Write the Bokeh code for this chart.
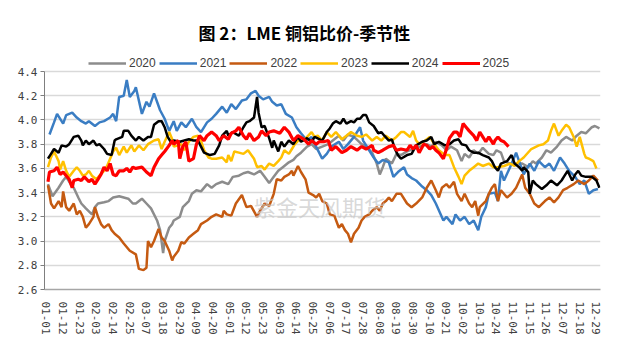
from bokeh.plotting import figure
from bokeh.models import FixedTicker, Legend, LegendItem, Label, PrintfTickFormatter, Range1d
from bokeh.embed import file_html
from bokeh.resources import INLINE

tick_days = list(range(0, 364, 11))
tick_labels = ["01-01", "01-12", "01-23", "02-03", "02-14", "02-25", "03-07", "03-18",
               "03-29", "04-09", "04-20", "05-01", "05-12", "05-23", "06-03", "06-14",
               "06-25", "07-06", "07-17", "07-28", "08-08", "08-19", "08-30", "09-10",
               "09-21", "10-02", "10-13", "10-24", "11-04", "11-15", "11-26", "12-07",
               "12-18", "12-29"]
y_ticks = [2.6, 2.8, 3.0, 3.2, 3.4, 3.6, 3.8, 4.0, 4.2, 4.4]

years = ["2020", "2021", "2022", "2023", "2024", "2025"]

s2020 = [(1,3.47),(4,3.37),(8,3.44),(11,3.50),(13,3.53),(16,3.47),(18,3.44),(21,3.36),(23,3.31),(26,3.27),
         (30,3.22),(32,3.28),(34,3.31),(38,3.32),(41,3.33),(44,3.36),(48,3.37),(51,3.36),(54,3.35),(57,3.31),
         (59,3.31),(63,3.35),(66,3.31),(69,3.27),(73,3.17),(75,3.09),(77,2.90),(78,3.00),(81,3.11),(83,3.14),
         (84,3.17),(88,3.20),(90,3.28),(94,3.33),(96,3.39),(99,3.42),(102,3.41),(106,3.47),(109,3.44),(112,3.47),
         (116,3.49),(120,3.47),(123,3.53),(127,3.54),(130,3.56),(133,3.57),(137,3.55),(141,3.58),(144,3.53),(147,3.48),
         (150,3.53),(153,3.58),(156,3.61),(160,3.65),(163,3.67),(165,3.70),(168,3.73),(172,3.78),(175,3.80),(178,3.76),
         (182,3.78),(186,3.80),(189,3.83),(193,3.87),(196,3.83),(199,3.88),(203,3.86),(208,3.80),(211,3.78),(215,3.73),
         (218,3.64),(220,3.55),(222,3.61),(224,3.68),(228,3.64),(231,3.72),(234,3.71),(238,3.74),(244,3.77),(251,3.80),
         (254,3.78),(257,3.82),(261,3.79),(264,3.75),(267,3.78),(271,3.75),(274,3.66),(276,3.72),(279,3.69),(282,3.75),
         (285,3.72),(288,3.77),(292,3.72),(295,3.71),(297,3.75),(300,3.73),(302,3.66),(306,3.64),(310,3.64),(314,3.64),
         (318,3.61),(321,3.66),(323,3.64),(327,3.69),(330,3.75),(333,3.73),(337,3.78),(340,3.83),(343,3.86),(347,3.83),
         (350,3.87),(353,3.90),(356,3.89),(360,3.94),(362,3.95),(365,3.93)]

s2021 = [(2,3.88),(5,3.98),(7,4.05),(11,3.97),(13,4.04),(17,4.06),(20,4.02),(23,3.99),(26,3.97),(28,3.99),
         (32,3.95),(35,3.98),(38,3.99),(42,4.02),(44,4.05),(46,3.99),(48,4.19),(51,4.20),(53,4.33),(55,4.19),
         (58,4.24),(59,4.27),(63,4.05),(66,4.15),(68,4.11),(71,4.22),(75,4.08),(78,4.01),(81,3.91),(84,3.99),
         (86,3.91),(89,3.98),(92,3.94),(96,4.01),(99,3.94),(102,3.90),(106,3.98),(109,4.01),(112,4.05),(116,4.11),
         (119,4.06),(122,4.13),(125,4.09),(129,4.16),(132,4.17),(135,4.22),(138,4.24),(140,4.20),(143,4.17),(147,4.19),
         (149,4.15),(152,4.12),(155,4.13),(158,4.05),(162,4.02),(165,3.94),(168,3.89),(172,3.83),(175,3.86),(178,3.78),
         (182,3.68),(185,3.72),(188,3.78),(193,3.82),(196,3.76),(199,3.80),(203,3.86),(207,3.94),(209,3.83),(213,3.75),
         (216,3.69),(219,3.64),(222,3.67),(226,3.65),(229,3.53),(232,3.57),(236,3.61),(238,3.55),(241,3.52),(244,3.50),
         (248,3.45),(251,3.42),(254,3.38),(257,3.31),(262,3.17),(264,3.20),(268,3.14),(270,3.22),(273,3.17),(276,3.20),
         (279,3.14),(282,3.17),(285,3.09),(287,3.20),(290,3.28),(292,3.39),(296,3.40),(298,3.33),(300,3.58),(302,3.50),
         (306,3.61),(310,3.73),(315,3.55),(319,3.64),(322,3.58),(325,3.66),(329,3.61),(332,3.64),(335,3.58),(339,3.69),
         (342,3.64),(345,3.58),(349,3.53),(352,3.47),(355,3.50),(358,3.39),(361,3.42),(364,3.43)]

s2022 = [(1,3.46),(3,3.31),(5,3.27),(8,3.33),(10,3.28),(11,3.41),(13,3.28),(15,3.25),(18,3.31),(20,3.22),
         (22,3.25),(24,3.20),(26,3.11),(28,3.14),(31,3.20),(32,3.28),(34,3.20),(36,3.14),(38,3.11),(41,3.14),
         (43,3.09),(45,3.06),(48,3.03),(51,2.98),(55,2.92),(59,2.89),(61,2.77),(64,2.76),(66,2.78),(67,3.00),
         (69,2.95),(71,3.00),(74,3.10),(76,3.03),(78,3.00),(81,2.92),(83,2.84),(84,2.87),(87,2.92),(89,2.99),
         (91,2.98),(94,3.03),(97,3.06),(100,3.09),(102,3.14),(106,3.17),(109,3.20),(112,3.22),(116,3.20),(117,3.25),
         (119,3.22),(122,3.21),(125,3.31),(129,3.38),(132,3.28),(135,3.29),(139,3.20),(141,3.25),(144,3.31),(147,3.29),
         (150,3.39),(152,3.51),(155,3.50),(157,3.53),(160,3.55),(162,3.58),(163,3.54),(166,3.62),(168,3.57),(171,3.51),
         (173,3.40),(176,3.38),(178,3.36),(180,3.39),(182,3.33),(185,3.31),(187,3.22),(190,3.21),(193,3.11),(195,3.14),
         (197,3.09),(199,3.06),(201,2.99),(203,3.06),(206,3.11),(208,3.17),(210,3.20),(213,3.22),(215,3.25),(218,3.28),
         (220,3.25),(222,3.31),(224,3.33),(226,3.36),(228,3.33),(231,3.39),(234,3.39),(238,3.31),(241,3.28),(244,3.31),
         (248,3.36),(251,3.44),(254,3.50),(257,3.42),(259,3.36),(261,3.44),(264,3.47),(266,3.44),(269,3.49),(271,3.39),
         (274,3.33),(276,3.39),(279,3.31),(281,3.28),(283,3.33),(285,3.21),(286,3.28),(290,3.33),(292,3.39),(294,3.44),
         (296,3.47),(298,3.33),(300,3.42),(304,3.36),(307,3.39),(310,3.44),(314,3.55),(316,3.44),(319,3.39),(322,3.31),
         (325,3.28),(329,3.33),(332,3.36),(335,3.32),(338,3.36),(341,3.42),(344,3.44),(348,3.47),(351,3.50),(355,3.47),
         (358,3.50),(361,3.54),(364,3.50)]

s2023 = [(1,3.61),(3,3.69),(5,3.74),(8,3.66),(9,3.59),(11,3.66),(13,3.58),(15,3.53),(18,3.58),(20,3.61),
         (22,3.58),(24,3.54),(26,3.55),(28,3.58),(30,3.54),(33,3.51),(35,3.54),(38,3.58),(40,3.62),(42,3.68),
         (44,3.74),(46,3.77),(48,3.71),(51,3.78),(53,3.73),(56,3.79),(58,3.74),(61,3.79),(64,3.75),(67,3.80),
         (71,3.83),(74,3.84),(76,3.76),(78,3.82),(81,3.90),(83,3.84),(84,3.78),(87,3.79),(89,3.80),(91,3.75),
         (94,3.82),(97,3.86),(100,3.87),(102,3.83),(104,3.75),(107,3.69),(109,3.68),(112,3.68),(116,3.69),(119,3.65),
         (120,3.71),(122,3.66),(124,3.74),(127,3.73),(130,3.72),(133,3.75),(137,3.68),(139,3.61),(142,3.62),(144,3.59),
         (147,3.64),(150,3.62),(153,3.66),(155,3.69),(157,3.75),(160,3.72),(162,3.76),(164,3.80),(167,3.84),(170,3.83),
         (172,3.86),(175,3.90),(177,3.86),(179,3.87),(182,3.83),(185,3.90),(188,3.86),(191,3.90),(195,3.84),(198,3.87),
         (201,3.90),(205,3.87),(208,3.86),(211,3.88),(215,3.83),(218,3.86),(221,3.83),(224,3.87),(228,3.83),(231,3.86),
         (234,3.90),(236,3.90),(240,3.86),(242,3.91),(244,3.83),(246,3.80),(250,3.83),(253,3.86),(256,3.80),(259,3.75),
         (263,3.71),(266,3.71),(269,3.61),(272,3.53),(274,3.47),(276,3.54),(279,3.58),(282,3.61),(285,3.64),(288,3.62),
         (292,3.64),(295,3.61),(298,3.61),(302,3.62),(306,3.64),(309,3.62),(312,3.66),(315,3.69),(320,3.76),(325,3.79),
         (328,3.80),(331,3.83),(333,3.91),(335,3.97),(338,3.87),(340,3.91),(343,3.96),(345,3.94),(348,3.86),(350,3.78),
         (352,3.86),(355,3.72),(356,3.69),(358,3.68),(361,3.66),(363,3.60)]

s2024 = [(1,3.68),(3,3.72),(5,3.76),(8,3.73),(10,3.79),(13,3.78),(15,3.80),(17,3.84),(18,3.86),(21,3.87),
         (23,3.83),(24,3.79),(26,3.83),(28,3.80),(31,3.83),(33,3.79),(35,3.80),(38,3.76),(40,3.72),(43,3.71),
         (45,3.83),(46,3.84),(50,3.86),(51,3.91),(54,3.91),(56,3.87),(59,3.83),(61,3.86),(64,3.83),(67,3.86),
         (69,3.86),(71,3.96),(74,3.99),(76,3.99),(78,3.94),(80,3.86),(82,3.82),(84,3.83),(88,3.82),(91,3.83),
         (94,3.84),(97,3.83),(100,3.83),(102,3.78),(104,3.73),(108,3.71),(111,3.72),(114,3.79),(116,3.87),(119,3.91),
         (120,3.87),(123,3.90),(127,3.87),(130,3.94),(132,3.98),(134,3.99),(137,4.02),(139,4.19),(140,4.06),(142,3.94),
         (144,3.95),(147,3.85),(149,3.77),(150,3.83),(153,3.74),(155,3.82),(157,3.78),(160,3.83),(163,3.80),(166,3.86),
         (168,3.82),(172,3.85),(175,3.82),(177,3.86),(182,3.83),(185,3.90),(187,3.93),(189,3.97),(191,3.99),(194,3.97),
         (196,4.01),(198,3.97),(201,3.99),(203,3.98),(205,4.01),(207,4.01),(209,4.04),(211,4.04),(213,3.98),(216,3.95),
         (219,3.89),(221,3.90),(223,3.87),(226,3.83),(228,3.84),(230,3.76),(232,3.71),(234,3.68),(238,3.71),(241,3.72),
         (244,3.79),(248,3.82),(251,3.83),(254,3.86),(256,3.80),(259,3.82),(263,3.79),(266,3.80),(269,3.83),(272,3.84),
         (274,3.80),(277,3.79),(279,3.75),(282,3.73),(285,3.73),(288,3.71),(292,3.69),(294,3.66),(296,3.61),(298,3.58),
         (300,3.64),(304,3.66),(307,3.71),(309,3.64),(312,3.61),(314,3.58),(315,3.61),(318,3.57),(319,3.39),(321,3.50),
         (323,3.47),(327,3.43),(330,3.46),(333,3.50),(337,3.46),(340,3.50),(342,3.54),(344,3.58),(347,3.50),(349,3.55),
         (351,3.58),(353,3.54),(356,3.53),(360,3.53),(363,3.50),(365,3.44)]

s2025 = [(1,3.49),(2,3.57),(5,3.58),(7,3.61),(9,3.55),(11,3.57),(13,3.54),(15,3.51),(17,3.44),(18,3.50),
         (21,3.51),(23,3.50),(25,3.53),(28,3.49),(30,3.51),(32,3.47),(34,3.51),(36,3.55),(38,3.61),(40,3.58),
         (42,3.64),(44,3.55),(46,3.54),(48,3.58),(51,3.58),(53,3.60),(55,3.57),(57,3.61),(59,3.60),(63,3.61),
         (66,3.57),(69,3.54),(71,3.61),(74,3.68),(76,3.71),(78,3.74),(81,3.79),(83,3.83),(84,3.80),(87,3.83),
         (88,3.68),(90,3.78),(92,3.82),(94,3.66),(97,3.68),(99,3.80),(101,3.87),(104,3.83),(106,3.87),(109,3.90),
         (112,3.87),(114,3.83),(117,3.87),(120,3.84),(122,3.89),(125,3.91),(127,3.94),(130,3.87),(132,3.84),(134,3.89),
         (137,3.83),(140,3.86),(142,3.91),(145,3.87),(147,3.90),(150,3.91),(154,3.89),(157,3.94),(160,3.90),(163,3.83),
         (166,3.87),(170,3.84),(173,3.80),(175,3.83),(178,3.80),(180,3.82),(183,3.82),(186,3.83),(188,3.75),(191,3.78),
         (195,3.73),(198,3.75),(201,3.78),(205,3.75),(208,3.78),(211,3.76),(215,3.79),(216,3.75),(219,3.73),(222,3.75),
         (226,3.78),(229,3.79),(231,3.75),(234,3.76),(238,3.75),(240,3.79),(242,3.76),(244,3.79),(246,3.73),(249,3.80),
         (251,3.79),(253,3.76),(255,3.78),(257,3.75),(259,3.73),(262,3.68),(264,3.76),(266,3.85),(269,3.90),(271,3.90),
         (273,3.86),(275,3.97),(277,3.94),(279,3.91),(282,3.87),(284,3.83),(286,3.90),(288,3.86),(290,3.82),(292,3.86),
         (295,3.80),(296,3.83),(298,3.86),(300,3.83),(302,3.82),(305,3.78)]

series = [s2020, s2021, s2022, s2023, s2024, s2025]
colors = ["#8C8C8C", "#3A7DC3", "#C55A11", "#FFC000", "#000000", "#FF0000"]
widths = [2.5, 2.5, 2.5, 2.5, 2.5, 3.2]

p = figure(width=619, height=352, output_backend="svg", toolbar_location=None,
           x_range=Range1d(-1.3, 365.7), y_range=Range1d(2.6, 4.557),
           min_border_left=44, min_border_right=19, min_border_bottom=63, min_border_top=52)
p.outline_line_color = None
p.background_fill_color = "white"
p.border_fill_color = "white"

items = []
for name, s, c, w in zip(years, series, colors, widths):
    xs = [d for d, v in s]
    ys = [v for d, v in s]
    r = p.line(xs, ys, line_color=c, line_width=w)
    items.append(LegendItem(label=name, renderers=[r]))

p.xgrid.visible = False
p.ygrid.grid_line_color = "#D9D9D9"
p.ygrid.grid_line_width = 1.5
p.ygrid.ticker = FixedTicker(ticks=y_ticks)

p.yaxis.ticker = FixedTicker(ticks=y_ticks)
p.yaxis.bounds = (2.6, 4.4)
p.yaxis.formatter = PrintfTickFormatter(format="%.1f")
p.yaxis.axis_line_color = "#7F7F7F"
p.yaxis.major_tick_line_color = "#7F7F7F"
p.yaxis.major_tick_out = 4
p.yaxis.major_tick_in = 0
p.yaxis.minor_tick_line_color = None
p.yaxis.major_label_text_font = "DejaVu Sans Mono"
p.yaxis.major_label_text_font_size = "11px"
p.yaxis.major_label_text_color = "#404040"
p.yaxis.major_label_standoff = 3

p.xaxis.ticker = FixedTicker(ticks=tick_days)
p.xaxis.major_label_overrides = {d: lab for d, lab in zip(tick_days, tick_labels)}
p.xaxis.major_label_orientation = "vertical"
p.xaxis.axis_line_color = "#A6A6A6"
p.xaxis.axis_line_width = 1.5
p.xaxis.major_tick_line_color = None
p.xaxis.minor_tick_line_color = None
p.xaxis.major_label_text_font = "DejaVu Sans Mono"
p.xaxis.major_label_text_font_size = "11px"
p.xaxis.major_label_text_color = "#404040"
p.xaxis.major_label_standoff = 6

legend = Legend(items=items, orientation="horizontal", location=(44, 219),
                glyph_width=38, glyph_height=12, label_height=12, label_standoff=3,
                spacing=3, padding=2, margin=0, border_line_color=None,
                background_fill_alpha=0,
                label_text_font="Liberation Sans", label_text_font_size="12px",
                label_text_color="#404040")
p.add_layout(legend)

p.title.text = "图 2：LME 铜铝比价-季节性"
p.title.text_font = "Noto Sans CJK SC"
p.title.text_font_style = "bold"
p.title.text_font_size = "17px"
p.title.align = "left"
p.title.offset = 154
p.title.text_color = "#000000"
p.title.standoff = 16

wm = Label(x=137, y=3.29, text="紫金天风期货", text_font="Noto Sans CJK SC",
           text_font_size="22px", text_color="#C8C8C8", text_alpha=0.7,
           text_baseline="middle", text_align="left")
p.add_layout(wm)

open("out.html", "w").write(file_html(p, INLINE))
